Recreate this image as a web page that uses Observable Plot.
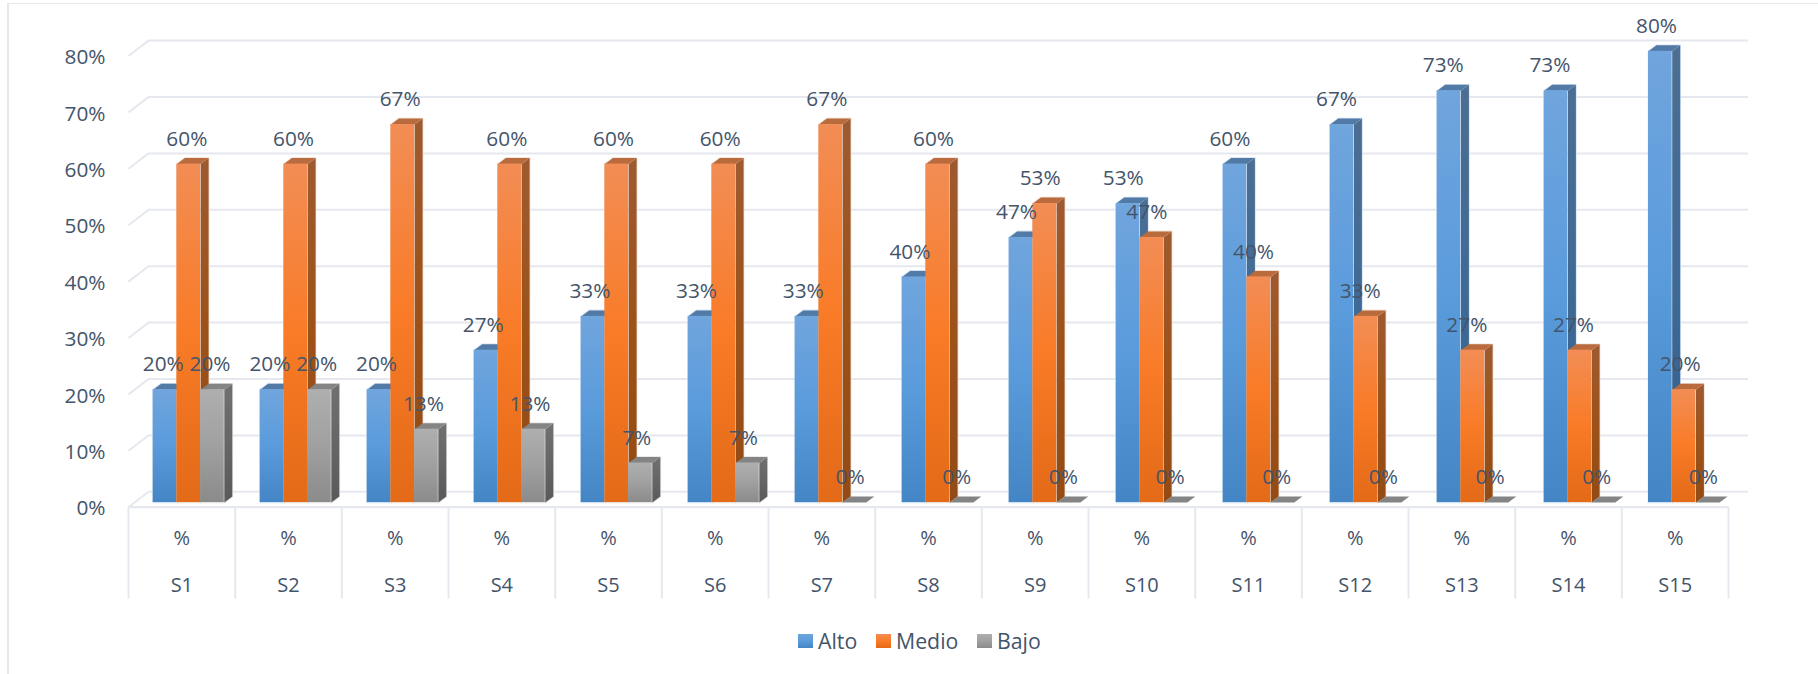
<!DOCTYPE html>
<html>
<head>
<meta charset="utf-8">
<script src="https://cdn.jsdelivr.net/npm/d3@7"></script>
<script src="https://cdn.jsdelivr.net/npm/@observablehq/plot@0.6"></script>
<style>
  html, body { margin: 0; padding: 0; background: #fff; }
  body { width: 1818px; height: 674px; overflow: hidden; position: relative; font-family: "Open Sans", sans-serif; }
  #frame { position: absolute; left: 7px; top: 3px; right: 0; bottom: 0; border-left: 2px solid #e5e8ee; border-top: 1.5px solid #e5e8ee; pointer-events: none; }
  #legend { position: absolute; left: 0; top: 612px; width: 1818px; height: 60px; color: #44546a; font-size: 21.3px; }
  #legend span { position: absolute; top: 15px; line-height: 28px; }
  #legend i { position: absolute; top: 22px; width: 14.5px; height: 14px; display: block; }
  svg { display: block; }
</style>
</head>
<body>
<div id="chart"></div>
<div id="legend"></div>
<div id="frame"></div>
<script>
const categories = ["S1","S2","S3","S4","S5","S6","S7","S8","S9","S10","S11","S12","S13","S14","S15"];
const alto  = [20,20,20,27,33,33,33,40,47,53,60,67,73,73,80];
const medio = [60,60,67,60,60,60,67,60,53,47,40,33,27,27,20];
const bajo  = [20,20,13,13,7,7,0,0,0,0,0,0,0,0,0];
const seriesNames = ["Alto","Medio","Bajo"];
const yTicks = [0,10,20,30,40,50,60,70,80];
const textColor = "#44546a";
const gridColor = "#e5e8ee";
const fontSize = 20.8;

const palette = {
  Alto:  {front:["#70a5dd","#5a9bdc","#4485c6"], side:["#4c6e92","#3f6a96","#325f8d"], top:"#527aa6", halo:"#d3e2f2"},
  Medio: {front:["#f28d55","#f97b27","#e36a17"], side:["#9e5a30","#9c5219","#934a14"], top:"#b96b3e", halo:"#f0dfd4"},
  Bajo:  {front:["#afafaf","#a0a0a0","#8b8b8b"], side:["#707070","#666666","#595959"], top:"#848484", halo:"#e4e4e4"}
};
const values = {Alto: alto, Medio: medio, Bajo: bajo};

// 3D projection constants, in x-band and y-percent units
const PX = 1600 / 15, PY = 451.2 / 80;
const barW = 23.7 / PX, barLead = 24.7 / PX, barStep = 107 / PX;
const depthX = 8 / PX, depthY = 6 / PY;
const wallX = 20 / PX, wallY = 15.4 / PY;
const barDy = -4.7;

function barStart(i, s) {
  const nudge = i === 14 ? -2.7 / PX : 0;
  return barLead + i * barStep + s * barW + nudge;
}

const bars = [];
seriesNames.forEach((name, s) => values[name].forEach((v, i) => {
  const x1 = barStart(i, s);
  bars.push({name, s, i, v, x1, x2: x1 + barW});
}));
const poly = (b, kind, pts) => pts.map(([x, y]) => ({id: `${b.name}-${b.i}-${kind}`, x, y}));
const sideFaces = name => bars.filter(b => b.name === name && b.v > 0).flatMap(b => poly(b, "side", [
  [b.x2, 0], [b.x2 + depthX, depthY], [b.x2 + depthX, b.v + depthY], [b.x2, b.v]
]));
const topFaces = name => bars.filter(b => b.name === name).flatMap(b => poly(b, "top", [
  [b.x1, b.v], [b.x2, b.v], [b.x2 + depthX, b.v + depthY], [b.x1 + depthX, b.v + depthY]
]));
const outlines = name => bars.filter(b => b.name === name && b.v > 0).flatMap(b => poly(b, "edge", [
  [b.x1, 0], [b.x1, b.v], [b.x1 + depthX, b.v + depthY], [b.x2 + depthX, b.v + depthY],
  [b.x2 + depthX, depthY], [b.x2, 0], [b.x1, 0]
]));

function gradient(id, stops) {
  return `<linearGradient id="${id}" x1="0" y1="0" x2="0" y2="1">` +
    stops.map((c, k) => `<stop offset="${k / (stops.length - 1)}" stop-color="${c}"/>`).join("") +
    `</linearGradient>`;
}
const defsMark = () => {
  const g = document.createElementNS("http://www.w3.org/2000/svg", "defs");
  g.innerHTML = seriesNames.map(n =>
    gradient(`front-${n}`, palette[n].front) + gradient(`side-${n}`, palette[n].side)).join("");
  return g;
};

const text = {fill: textColor, fontSize, fontFamily: "Open Sans, sans-serif"};

// soft light edge that the reference shows around each column
const haloMarks = name => [
  Plot.line(outlines(name), {x: "x", y: "y", z: "id", stroke: palette[name].halo, strokeWidth: 1.6, dy: barDy})
];
const seriesMarks = name => [
  Plot.line(sideFaces(name), {x: "x", y: "y", z: "id", fill: `url(#side-${name})`, stroke: "none", dy: barDy}),
  Plot.line(topFaces(name), {x: "x", y: "y", z: "id", fill: palette[name].top, stroke: "none", dy: barDy}),
  Plot.rect(bars.filter(b => b.name === name && b.v > 0), {
    x1: "x1", x2: "x2", y1: 0, y2: "v", fill: `url(#front-${name})`, dy: barDy
  })
];

const labelOffset = {Alto: -18.6 / PX, Medio: 5 / PX, Bajo: 28.2 / PX};

const plot = Plot.plot({
  width: 1818,
  height: 612,
  marginLeft: 128,
  marginRight: 90,
  marginTop: 55.5,
  marginBottom: 105.3,
  x: {type: "linear", domain: [0, 15], axis: null},
  y: {type: "linear", domain: [0, 80], axis: null},
  style: {background: "transparent", overflow: "visible"},
  marks: [
    defsMark,
    // back wall and side wall
    Plot.ruleY(yTicks, {x1: 0, x2: 15, dx: 20, dy: -15.4, stroke: gridColor, strokeWidth: 2}),
    Plot.link(yTicks, {x1: 0, x2: wallX, y1: d => d, y2: d => d + wallY, stroke: gridColor, strokeWidth: 2}),
    // floor and category separators
    Plot.ruleY([0], {x1: 0, x2: 15, stroke: gridColor, strokeWidth: 2.2}),
    Plot.ruleX(d3.range(16), {y1: 0, y2: -16.3, stroke: gridColor, strokeWidth: 2}),
    // bars
    ...seriesNames.flatMap(haloMarks),
    ...seriesNames.flatMap(seriesMarks),
    // value labels
    Plot.text(bars, {
      x: d => d.i + 0.5 + labelOffset[d.name], y: "v", text: d => `${d.v}%`,
      dy: -29.7, ...text
    }),
    // category axis
    Plot.text(categories, {x: (d, i) => i + 0.5, y: () => 0, text: () => "%", dy: 31.5, ...text, fontSize: 20}),
    Plot.text(categories, {x: (d, i) => i + 0.5, y: () => 0, text: d => d, dy: 78, ...text, fontSize: 20}),
    // value axis
    Plot.axisY(yTicks, {
      anchor: "left", tickSize: 0, tickPadding: 23, tickFormat: d => `${d}%`, label: null,
      dy: 1.5, ...text
    })
  ]
});
document.getElementById("chart").append(plot);

// legend below the chart
const legend = document.getElementById("legend");
const legendPos = {Alto: [798, 818], Medio: [876, 896], Bajo: [977, 997]};
seriesNames.forEach(n => {
  const sw = document.createElement("i");
  sw.style.left = legendPos[n][0] + "px";
  sw.style.background = `linear-gradient(${palette[n].front.join(",")})`;
  const t = document.createElement("span");
  t.style.left = legendPos[n][1] + "px";
  t.textContent = n;
  legend.append(sw, t);
});
</script>
</body>
</html>
